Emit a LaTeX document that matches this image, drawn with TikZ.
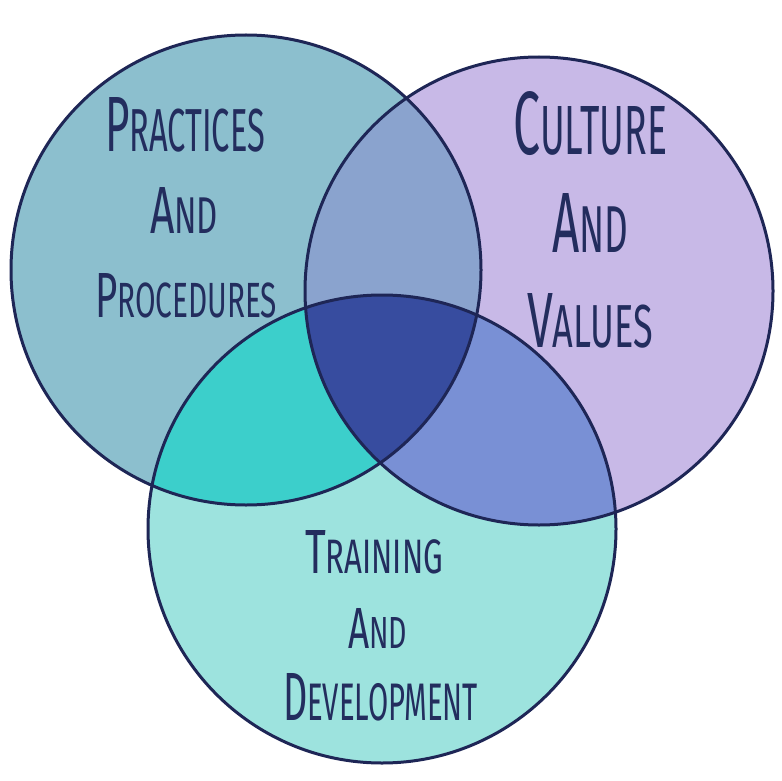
\documentclass[tikz,border=0pt]{standalone}
\usepackage{fontspec}
\setmainfont{Fira Sans}
\usepackage{graphicx}
\definecolor{cL}{HTML}{8CBFCE}
\definecolor{cR}{HTML}{C8B9E7}
\definecolor{cB}{HTML}{9DE3DE}
\definecolor{cLR}{HTML}{8AA3CE}
\definecolor{cLB}{HTML}{3CCFCB}
\definecolor{cRB}{HTML}{7990D5}
\definecolor{cLRB}{HTML}{374C9F}
\definecolor{ink}{HTML}{1E2656}
\definecolor{txt}{HTML}{232D5E}
\newcommand{\capln}[2]{{\fontsize{40}{40}\selectfont #1}{\fontsize{31}{31}\selectfont #2}}
\tikzset{
  lbl/.style={anchor=base west, inner sep=0pt, outer sep=0pt, text=txt},
  ring/.style={draw=ink, line width=3pt}
}
\begin{document}
\begin{tikzpicture}[x=1pt,y=-1pt]
\useasboundingbox[fill=white] (0,0) rectangle (782,781);
\def\CL{(246,270) circle[radius=235]}
\def\CR{(539,291) circle[radius=234]}
\def\CB{(382,529) circle[radius=234]}
\fill[cL] \CL;
\fill[cR] \CR;
\fill[cB] \CB;
\begin{scope}\clip \CL; \fill[cLR] \CR; \end{scope}
\begin{scope}\clip \CL; \fill[cLB] \CB; \end{scope}
\begin{scope}\clip \CR; \fill[cRB] \CB; \end{scope}
\begin{scope}\clip \CL; \clip \CR; \fill[cLRB] \CB; \end{scope}
\draw[ring] \CL;
\draw[ring] \CR;
\draw[ring] \CB;
% left circle text
\node[lbl] (p1) at (105,152) {\resizebox{160pt}{54pt}{\capln{P}{RACTICES}}};
\node[lbl] (p2) at (150,233) {\resizebox{68pt}{46pt}{\capln{A}{ND}}};
\node[lbl] (p3) at (95,317) {\resizebox{182pt}{44pt}{\capln{P}{ROCEDURES}}};
% right circle text
\node[lbl] (c1) at (513,155) {\resizebox{154pt}{63pt}{\capln{C}{ULTURE}}};
\node[lbl] (c2) at (552,252) {\resizebox{76pt}{59pt}{\capln{A}{ND}}};
\node[lbl] (c3) at (527,347) {\resizebox{126pt}{54pt}{\capln{V}{ALUES}}};
% bottom circle text
\node[lbl] (b1) at (305,573) {\resizebox{138pt}{43pt}{\capln{T}{RAINING}}};
\node[lbl] (b2) at (348,648) {\resizebox{59pt}{40pt}{\capln{A}{ND}}};
\node[lbl] (b3) at (283,720) {\resizebox{195pt}{47pt}{\capln{D}{EVELOPMENT}}};
\end{tikzpicture}
\end{document}
